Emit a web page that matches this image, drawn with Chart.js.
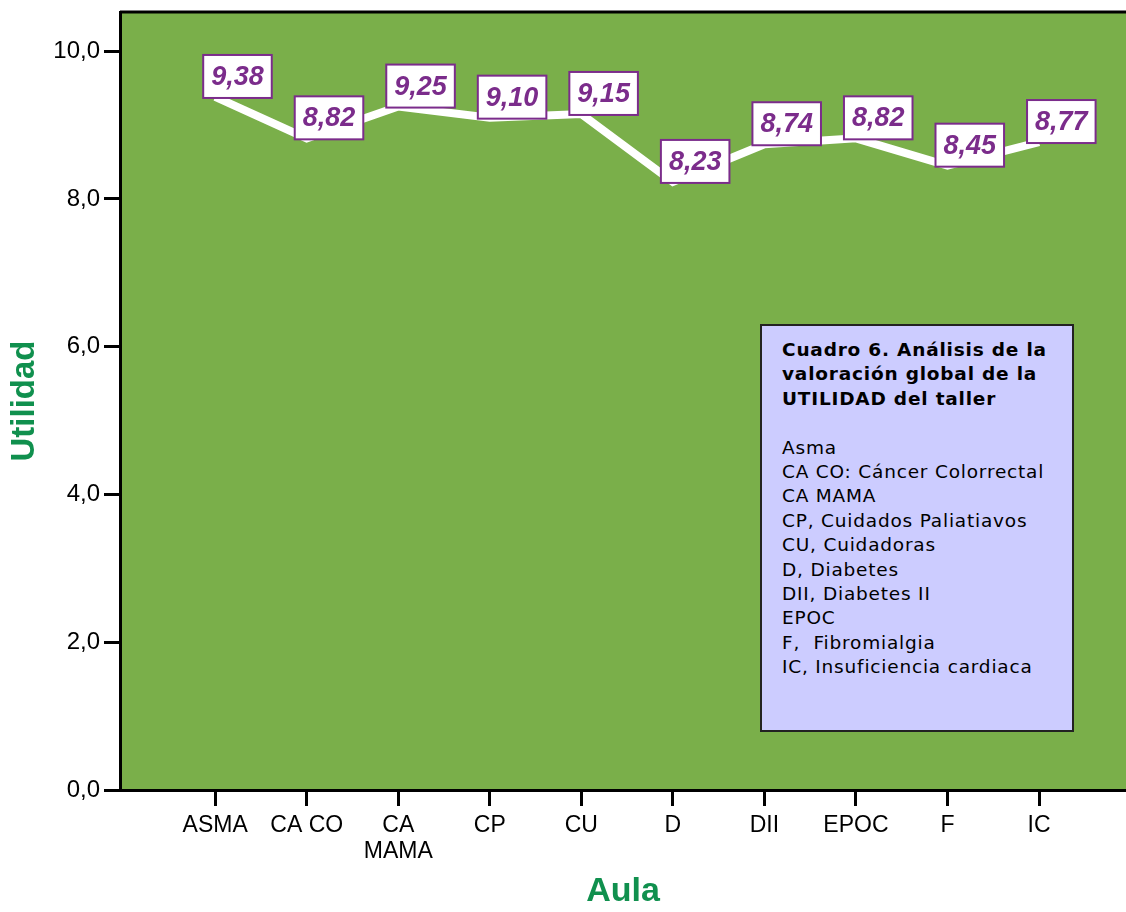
<!DOCTYPE html>
<html>
<head>
<meta charset="utf-8">
<script src="https://cdn.jsdelivr.net/npm/chart.js@4"></script>
<style>
  html, body { margin:0; padding:0; background:#fff; overflow:hidden; }
  #wrap { position:relative; width:1126px; height:912px; }
  #note {
    position:absolute; left:760px; top:324px; width:310px; height:404px;
    background:#ccccff; border:2px solid #222; box-sizing:content-box;
    font-family:'DejaVu Sans', Verdana, sans-serif; font-size:18.5px; line-height:24.4px;
    letter-spacing:0.8px; color:#000; padding:0;
  }
  #note .in { position:absolute; left:20px; top:12px; white-space:pre; }
  #note b { font-weight:bold; }
</style>
</head>
<body>
<div id="wrap">
  <canvas id="chart" width="1126" height="912"></canvas>
  <div id="note"><div class="in"><b>Cuadro 6. Análisis de la
valoración global de la
UTILIDAD del taller</b>

Asma
CA CO: Cáncer Colorrectal
CA MAMA
CP, Cuidados Paliatiavos
CU, Cuidadoras
D, Diabetes
DII, Diabetes II
EPOC
F,  Fibromialgia
IC, Insuficiencia cardiaca</div></div>
</div>
<script>
// valores
const categories = ['ASMA', 'CA CO', ['CA', 'MAMA'], 'CP', 'CU', 'D', 'DII', 'EPOC', 'F', 'IC'];
const utilidad   = [9.38, 8.82, 9.25, 9.10, 9.15, 8.23, 8.74, 8.82, 8.45, 8.77];
const yTicks     = [0, 2, 4, 6, 8, 10];

const GREEN_BG = '#7aaf4a';
const PURPLE   = '#7b2c8b';
const TITLE_G  = '#10904e';
const FONT     = '"Liberation Sans", Arial, sans-serif';

const fmt = (v, d) => v.toFixed(d).replace('.', ',');

// fondo verde del área y borde superior
const plotBg = {
  id: 'plotBg',
  beforeDraw(chart) {
    const { ctx, chartArea: a } = chart;
    ctx.save();
    ctx.fillStyle = GREEN_BG;
    ctx.fillRect(a.left, a.top, a.right - a.left, a.bottom - a.top);
    ctx.strokeStyle = '#000';
    ctx.lineWidth = 3;
    ctx.beginPath();
    ctx.moveTo(a.left, a.top);
    ctx.lineTo(a.right, a.top);
    ctx.stroke();
    ctx.restore();
  }
};

// etiquetas de valor en cajas blancas
const valueBoxes = {
  id: 'valueBoxes',
  afterDatasetsDraw(chart) {
    const { ctx } = chart;
    const meta = chart.getDatasetMeta(0);
    ctx.save();
    ctx.font = 'italic bold 27px ' + FONT;
    ctx.textAlign = 'center';
    ctx.textBaseline = 'middle';
    meta.data.forEach((pt, i) => {
      const txt = fmt(utilidad[i], 2);
      const w = ctx.measureText(txt).width + 16;
      const h = 43;
      const x0 = pt.x - 12, y0 = pt.y - h + 1;
      ctx.fillStyle = '#fff';
      ctx.fillRect(x0, y0, w, h);
      ctx.strokeStyle = PURPLE;
      ctx.lineWidth = 2;
      ctx.strokeRect(x0, y0, w, h);
      ctx.fillStyle = PURPLE;
      ctx.fillText(txt, x0 + w / 2, y0 + h / 2 + 1);
    });
    ctx.restore();
  }
};

new Chart(document.getElementById('chart'), {
  type: 'line',
  data: {
    datasets: [{
      data: utilidad.map((v, i) => ({ x: i + 1, y: v })),
      borderColor: '#fff',
      borderWidth: 8,
      pointRadius: 0,
      tension: 0,
      fill: false
    }]
  },
  options: {
    responsive: false,
    animation: false,
    layout: { padding: { top: 12, right: 0, left: 0, bottom: 0 } },
    plugins: { legend: { display: false }, tooltip: { enabled: false } },
    scales: {
      x: {
        type: 'linear',
        min: -0.04,
        max: 10.95,
        afterBuildTicks: s => { s.ticks = categories.map((c, i) => ({ value: i + 1 })); },
        afterFit: s => { s.height = 122; s.paddingLeft = 0; s.paddingRight = 0; },
        ticks: {
          autoSkip: false,
          maxRotation: 0,
          padding: 7,
          color: '#000',
          font: { family: FONT, size: 23, lineHeight: 1.13 },
          callback: v => categories[v - 1]
        },
        grid: { drawOnChartArea: false, tickLength: 16, tickWidth: 3, tickColor: '#000' },
        border: { color: '#000', width: 3 },
        title: {
          display: true, text: 'Aula', color: TITLE_G,
          font: { family: FONT, size: 34, weight: 'bold', lineHeight: 1.2 },
          padding: { top: 0, bottom: 0 }
        }
      },
      y: {
        min: 0,
        max: 10.53,
        afterBuildTicks: s => { s.ticks = yTicks.map(v => ({ value: v })); },
        afterFit: s => { s.width = 120; s.paddingTop = 0; s.paddingBottom = 0; },
        ticks: {
          padding: 4,
          color: '#000',
          font: { family: FONT, size: 24 },
          callback: v => fmt(v, 1)
        },
        grid: { drawOnChartArea: false, tickLength: 16, tickWidth: 3, tickColor: '#000' },
        border: { color: '#000', width: 3 },
        title: {
          display: true, text: 'Utilidad', color: TITLE_G,
          font: { family: FONT, size: 33, weight: 'bold', lineHeight: 1.2 },
          padding: { top: 5, bottom: 0 }
        }
      }
    }
  },
  plugins: [plotBg, valueBoxes]
});
</script>
</body>
</html>
